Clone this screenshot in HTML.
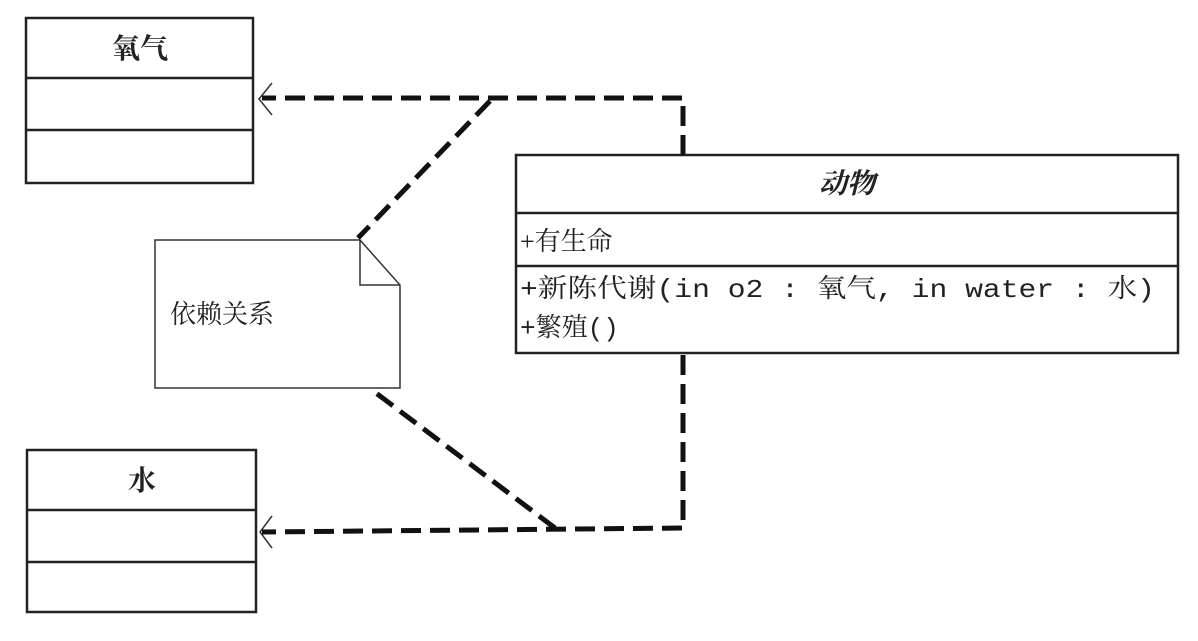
<!DOCTYPE html>
<html><head><meta charset="utf-8"><style>
body{margin:0;background:#fff;width:1198px;height:636px;overflow:hidden}
svg text{font-family:"Liberation Serif","Noto Serif CJK SC","Noto Sans CJK SC",serif;fill:#222}
svg text.m{font-family:"Liberation Mono","Noto Serif CJK SC","Noto Sans CJK SC",monospace}
</style></head><body>
<svg width="1198" height="636" xmlns="http://www.w3.org/2000/svg">
<g fill="none" stroke="#222" stroke-width="2.5">
<rect x="26" y="18" width="227" height="165"/>
<line x1="26" y1="78" x2="253" y2="78"/><line x1="26" y1="130" x2="253" y2="130"/>
<rect x="27" y="450" width="229" height="162"/>
<line x1="27" y1="510" x2="256" y2="510"/><line x1="27" y1="562" x2="256" y2="562"/>
<rect x="516" y="155" width="662" height="198"/>
<line x1="516" y1="213" x2="1178" y2="213"/><line x1="516" y1="266" x2="1178" y2="266"/>
</g>
<g fill="none" stroke="#333" stroke-width="1.5">
<path d="M155 240 H360 L400 285 V388 H155 Z"/>
<path d="M360 240 V285 H400"/>
<path d="M272 83 L259 99 L272 115"/>
<path d="M272 516 L260 532 L272 548"/>
</g>
<g fill="none" stroke="#111" stroke-width="5" stroke-dasharray="20,9">
<path d="M683 155 V98 H262"/>
<path d="M490 101 L358 238"/>
<path d="M683 355 V528 L262 532"/>
<path d="M555 528 L372 390"/>
</g>
<text x="140" y="58" font-size="28" font-weight="bold" text-anchor="middle">氧气</text>
<text x="142" y="490" font-size="28" font-weight="bold" text-anchor="middle">水</text>
<text x="847" y="193" font-size="28" font-weight="bold" font-style="italic" text-anchor="middle">动物</text>
<text x="520" y="250" font-size="26">+有生命</text>
<text class="m" x="520" y="297" font-size="26" textLength="635" lengthAdjust="spacingAndGlyphs">+新陈代谢(in o2 : 氧气, in water  : 水)</text>
<text class="m" x="520" y="336" font-size="26">+繁殖()</text>
<text x="170" y="323" font-size="26">依赖关系</text>
</svg>
</body></html>
